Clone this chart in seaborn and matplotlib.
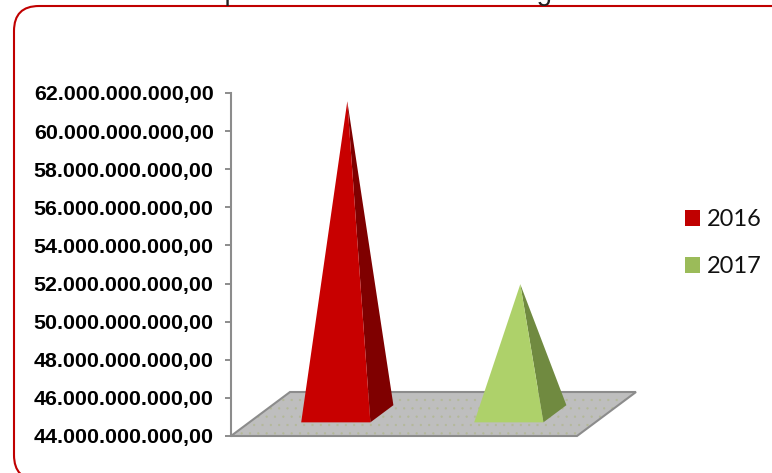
import matplotlib
matplotlib.use("Agg")
import matplotlib.pyplot as plt
import numpy as np
import pandas as pd
import seaborn as sns
from matplotlib.patches import FancyBboxPatch, Patch, Polygon

anos = ["2016", "2017"]
valores = [60.4e9, 50.8e9]
cores_legenda = ["#C00000", "#9BBB59"]
cores_frente = ["#C80000", "#AED16A"]
cores_lado = ["#7F0000", "#708A40"]
y_ticks = [44e9, 46e9, 48e9, 50e9, 52e9, 54e9, 56e9, 58e9, 60e9, 62e9]

W, H = 772, 473
# floor depth expressed in axis units
PROF_X = 59 / 173
PROF_Y = 44 / 343 * 18e9
BASE_INI, BASE_FIM = 0.31, 0.70

sns.set_theme(style="white")
plt.rcParams["font.family"] = ["Liberation Sans", "DejaVu Sans"]
plt.rcParams["hatch.linewidth"] = 0.4

df = pd.DataFrame({"ano": anos, "valor": valores})

fig = plt.figure(figsize=(W / 100, H / 100), dpi=100)

# frame and the cut off heading, in pixel coordinates
fundo = fig.add_axes([0, 0, 1, 1], zorder=0)
fundo.set_xlim(0, W)
fundo.set_ylim(H, 0)
fundo.axis("off")
fundo.add_patch(FancyBboxPatch((39, 31), 733, 424, boxstyle="round,pad=25,rounding_size=25",
                               fc="white", ec="#C00000", lw=1.5))
fundo.text(13, 0, "Gráfico 14 - Comparativo da Receita Total gerada nos anos", fontsize=20,
           color="#222222", va="baseline", ha="left")

ax = fig.add_axes([231 / W, (H - 436) / H, 346 / W, 343 / H], zorder=1)
ax.patch.set_alpha(0)
sns.barplot(data=df, x="ano", y="valor", hue="ano", palette=cores_legenda, width=0.4,
            saturation=1, dodge=False, legend=False, ax=ax)
ax.set_xlim(-0.5, 1.5)
ax.set_ylim(44e9, 62e9)


def ponto(x, v, d):
    return (x + d * PROF_X, v + d * PROF_Y)


# floor
chao = [ponto(-0.5, 44e9, 0), ponto(1.5, 44e9, 0), ponto(1.5, 44e9, 1), ponto(-0.5, 44e9, 1)]
ax.add_patch(Polygon(chao, closed=True, fc="#BEBEBE", ec="#B3B898", hatch="..", lw=0, clip_on=False, zorder=2))
ax.add_patch(Polygon(chao, closed=True, fill=False, ec="#8C8C8C", lw=1.5, clip_on=False, zorder=3))

# each bar becomes a pyramid with the same position, width and height
for i, barra in enumerate(list(ax.patches)):
    if not isinstance(barra, matplotlib.patches.Rectangle):
        continue
    barra.set_visible(False)
    x0 = barra.get_x()
    x1 = x0 + barra.get_width()
    v = barra.get_height()
    frente_e = ponto(x0, 44e9, BASE_INI)
    frente_d = ponto(x1, 44e9, BASE_INI)
    tras_d = ponto(x1, 44e9, BASE_FIM)
    topo = ponto((x0 + x1) / 2, v, (BASE_INI + BASE_FIM) / 2)
    ax.add_patch(Polygon([frente_d, tras_d, topo], closed=True, fc=cores_lado[i], lw=0, clip_on=False, zorder=4))
    ax.add_patch(Polygon([frente_e, frente_d, topo], closed=True, fc=cores_frente[i], lw=0, clip_on=False, zorder=5))

ax.set_yticks(y_ticks)
ax.set_yticklabels([f"{v:,.2f}".replace(",", "#").replace(".", ",").replace("#", ".") for v in y_ticks],
                   fontsize=15.4, fontweight="bold", color="#000000")
ax.set_xticks([])
ax.set_xlabel("")
ax.set_ylabel("")
ax.tick_params(axis="y", left=True, length=4, width=1.4, color="#8C8C8C", pad=8.5)
sns.despine(ax=ax, bottom=True)
ax.spines["left"].set_color("#8C8C8C")
ax.spines["left"].set_linewidth(1.5)

marcas = [Patch(fc=c, lw=0, label=a) for c, a in zip(cores_legenda, anos)]
fig.legend(handles=marcas, loc="upper left", bbox_to_anchor=(685 / W, 1 - 209 / H), frameon=False,
           prop={"family": "Lato", "size": 17}, labelcolor="#111111", borderpad=0, borderaxespad=0,
           handlelength=0.65, handleheight=0.65, handletextpad=0.28, labelspacing=1.12)

fig.savefig("out.png", dpi=100)
